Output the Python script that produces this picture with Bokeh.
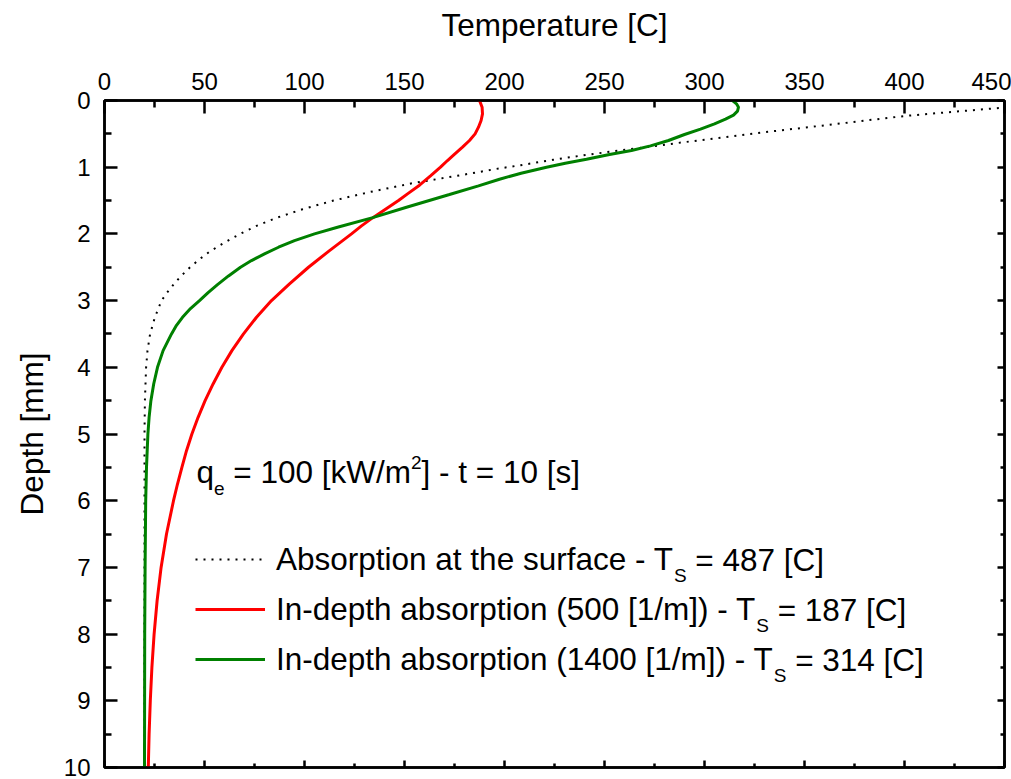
from bokeh.plotting import figure
from bokeh.models import (Range1d, LinearAxis, FixedTicker, Legend, LegendItem, Label,
                          CustomJSTickFormatter)
from bokeh.embed import file_html
from bokeh.resources import INLINE

# ---------------- data ----------------
x_ticks = [0, 50, 100, 150, 200, 250, 300, 350, 400, 450]
x_minor = [25, 75, 125, 175, 225, 275, 325, 375, 425]
y_ticks = [0, 1, 2, 3, 4, 5, 6, 7, 8, 9, 10]
y_minor = [0.5, 1.5, 2.5, 3.5, 4.5, 5.5, 6.5, 7.5, 8.5, 9.5]

# Absorption at the surface (Ts = 487 C)
depth_surf = [0, 0.11, 0.17, 0.23, 0.3, 0.38, 0.46, 0.55, 0.63, 0.71, 0.81, 0.89, 0.97,
              1.03, 1.1, 1.17, 1.24, 1.37, 1.5, 1.63, 1.76, 1.88, 2.0, 2.13, 2.26, 2.38,
              2.5, 2.63, 2.76, 2.88, 3.0, 3.25, 3.5, 3.75, 4.0, 4.5, 5.0, 6.0, 10.0]
temp_surf = [487, 448, 424, 401, 380.5, 358, 334.5, 310, 288.5, 268, 242, 224, 208,
             195, 182, 168, 154, 133, 114.5, 99, 86, 76, 67.8, 60, 52.8, 47.5,
             42.8, 38.3, 34.5, 31.3, 28.5, 25.2, 22.8, 21.5, 20.8, 20.2, 20.0, 20.0, 20.0]

# In-depth absorption 500 1/m (Ts = 187 C)
depth_red = [0, 0.1, 0.2, 0.3, 0.4, 0.5, 0.6, 0.7, 0.82, 0.9, 1.0, 1.13, 1.27, 1.4, 1.5,
             1.63, 1.76, 1.88, 2.0, 2.25, 2.5, 2.75, 3.0, 3.25, 3.5, 3.75, 4.0, 4.25,
             4.5, 4.75, 5.0, 5.25, 5.5, 5.75, 6.0, 6.5, 7.0, 7.5, 8.0, 8.5, 9.0, 9.5, 10.0]
temp_red = [187.5, 188.8, 189, 188.3, 187, 185.3, 182.5, 179, 174.5, 171.5, 168, 163,
            157.5, 151.5, 147, 140.5, 134, 128.5, 123.5, 112.5, 102, 92.5, 83.5, 76,
            69.5, 63.7, 58.7, 54.3, 50.3, 46.8, 43.7, 41, 38.7, 36.5, 34.5, 31, 28.3,
            26.3, 24.8, 23.7, 22.9, 22.3, 21.9]

# In-depth absorption 1400 1/m (Ts = 314 C)
depth_green = [0, 0.05, 0.1, 0.16, 0.22, 0.28, 0.35, 0.43, 0.51, 0.6, 0.68, 0.75, 0.81,
               0.88, 0.94, 1.0, 1.09, 1.18, 1.28, 1.41, 1.6, 1.76, 1.9, 2.0, 2.1, 2.2,
               2.3, 2.4, 2.5, 2.63, 2.76, 2.88, 3.0, 3.12, 3.25, 3.37, 3.5, 3.75, 4.0,
               4.25, 4.5, 4.75, 5.0, 5.5, 6.0, 7.0, 8.0, 10.0]
temp_green = [314, 316, 317, 316.5, 314.5, 310.5, 305, 298, 290, 282, 273, 263.5, 252.5,
              241, 230.4, 221, 208.3, 197.5, 187, 172.5, 151, 133.7, 116.5, 105, 95, 87,
              80, 73.5, 68, 62, 56.5, 51.8, 47.5, 43, 39, 36, 33.5, 29.3, 26.5,
              24.6, 23.2, 22.3, 21.7, 21, 20.6, 20.3, 20.1, 20.0]

legend_main = ["Absorption at the surface - T",
               "In-depth absorption (500 [1/m]) - T",
               "In-depth absorption (1400 [1/m]) - T"]
legend_rest = ["= 487 [C]", "= 187 [C]", "= 314 [C]"]

# ---------------- layout constants ----------------
W, H = 1011, 779
FL, FT, FR, FB = 104, 100, 1004, 767      # frame edges in canvas px
FONT = "Liberation Sans"
BIG = 31.5
SMALL = 19

ARIAL = {' ': 278, 'A': 667, 'b': 556, 's': 500, 'o': 556, 'r': 333, 'p': 556, 't': 278,
         'i': 222, 'n': 556, 'a': 556, 'h': 556, 'e': 556, 'u': 556, 'f': 278, 'c': 500,
         '-': 333, 'T': 611, 'S': 667, '=': 584, '[': 278, ']': 278, 'C': 722, 'I': 278,
         'd': 556, '(': 333, ')': 333, '/': 278, 'm': 833, 'q': 556, 'k': 500, 'W': 944,
         'D': 722}


def tw(s, size):
    return sum(ARIAL.get(ch, 556) for ch in s) / 1000.0 * size


p = figure(width=W, height=H, x_range=Range1d(0, 450), y_range=Range1d(10, 0),
           x_axis_location="above", output_backend="svg", toolbar_location=None,
           min_border_left=FL, min_border_right=W - FR, min_border_top=FT,
           min_border_bottom=H - FB, background_fill_color="white",
           border_fill_color="white")
p.xgrid.visible = False
p.ygrid.visible = False
p.outline_line_color = "black"
p.outline_line_width = 2.5

xt = FixedTicker(ticks=x_ticks, minor_ticks=x_minor)
yt = FixedTicker(ticks=y_ticks, minor_ticks=y_minor)
blank = CustomJSTickFormatter(code="return ''")

bottom = LinearAxis(ticker=xt, formatter=blank)
right = LinearAxis(ticker=yt, formatter=blank)
p.add_layout(bottom, "below")
p.add_layout(right, "right")

top = p.xaxis[0]
left = p.yaxis[0]
top.ticker = xt
left.ticker = yt

for ax in [top, left, bottom, right]:
    ax.axis_line_color = "black"
    ax.axis_line_width = 2.5
    ax.major_tick_line_color = "black"
    ax.minor_tick_line_color = "black"
    ax.major_tick_line_width = 2.5
    ax.minor_tick_line_width = 2.5
    ax.major_tick_out = 0
    ax.minor_tick_out = 0
    ax.major_label_text_font = FONT
    ax.major_label_text_color = "black"
    ax.axis_label_text_font = FONT
    ax.axis_label_text_font_style = "normal"
    ax.axis_label_text_color = "black"

for ax in [top, left]:
    ax.major_tick_in = 13
    ax.minor_tick_in = 7
    ax.major_label_text_font_size = "24px"
    ax.axis_label_text_font_size = f"{BIG}px"

for ax in [bottom, right]:
    ax.major_tick_in = 7
    ax.minor_tick_in = 4
    ax.major_label_text_font_size = "0px"
    ax.major_label_standoff = 0

top.axis_label = "Temperature [C]"
top.major_label_standoff = 11
top.axis_label_standoff = 27
left.axis_label = "Depth [mm]"
left.major_label_standoff = 14
left.axis_label_standoff = 11

r_s = p.line(temp_surf, depth_surf, line_color="black", line_width=2, line_dash="2 6")
r_r = p.line(temp_red, depth_red, line_color="#ff0000", line_width=3)
r_g = p.line(temp_green, depth_green, line_color="#008000", line_width=3)

# legend
LEG_X = 195                 # canvas x of legend sample lines
ROW0, ROW_H, ROW_SP = 559, 40, 10
n = len(legend_main)
leg_h = n * ROW_H + (n - 1) * ROW_SP
leg_top = ROW0 - ROW_H / 2
legend = Legend(items=[LegendItem(label=legend_main[i], renderers=[r])
                       for i, r in enumerate([r_s, r_r, r_g])],
                location=(LEG_X - FL, FB - (leg_top + leg_h)),
                orientation="vertical", padding=0, margin=0, spacing=ROW_SP,
                glyph_width=70, glyph_height=ROW_H, label_height=ROW_H,
                label_standoff=11, border_line_color=None, background_fill_alpha=0,
                label_text_font=FONT, label_text_font_size=f"{BIG}px",
                label_text_color="black", label_text_baseline="middle")
p.add_layout(legend)


def put(text, X, Y, size):
    p.add_layout(Label(x=X - FL, y=FB - Y, x_units="screen", y_units="screen",
                       text=text, text_font=FONT, text_font_size=f"{size}px",
                       text_baseline="middle", text_align="left", text_color="black"))


SUB = 16
SUP = -10
text_x0 = LEG_X + 70 + 11
for i in range(n):
    yc = ROW0 + i * (ROW_H + ROW_SP)
    xs = text_x0 + tw(legend_main[i], BIG)
    put("S", xs, yc + SUB, SMALL)
    xr = xs + tw("S", SMALL) + tw(" ", BIG)
    put(legend_rest[i], xr, yc, BIG)

# q_e annotation
qx, qy = 196, 471.7
put("q", qx, qy, BIG)
x = qx + tw("q", BIG)
put("e", x, qy + SUB, SMALL)
x += tw("e", SMALL) + tw(" ", BIG)
put("= 100 [kW/m", x, qy, BIG)
x += tw("= 100 [kW/m", BIG)
put("2", x, qy + SUP, SMALL)
x += tw("2", SMALL)
put("] - t = 10 [s]", x, qy, BIG)

open("out.html", "w").write(file_html(p, INLINE))
